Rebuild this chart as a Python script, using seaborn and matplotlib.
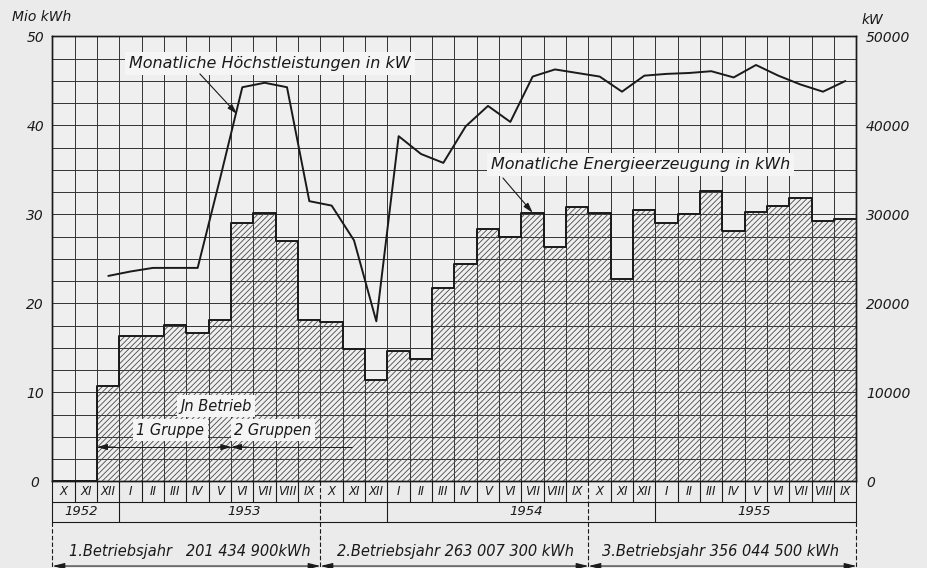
import numpy as np
import pandas as pd
import seaborn as sns
import matplotlib.pyplot as plt

# monthly data, Oct 1952 .. Sep 1955
months = ['X', 'XI', 'XII', 'I', 'II', 'III', 'IV', 'V', 'VI', 'VII', 'VIII', 'IX'] * 3
energy_mio_kwh = [0, 0, 10.7, 16.3, 16.4, 17.6, 16.7, 18.2, 29.1, 30.2, 27.0, 18.1,
                  17.9, 14.9, 11.4, 14.7, 13.8, 21.7, 24.4, 28.4, 27.5, 30.2, 26.3, 30.8,
                  30.2, 22.7, 30.5, 29.0, 30.0, 32.6, 28.1, 30.3, 30.9, 31.9, 29.3, 29.5]
# monthly peak load, starting Dec 1952
peak_kw = [23100, 23600, 24000, 24000, 24000, 34000, 44300, 44800, 44300, 31500,
           31000, 27100, 18000, 38800, 36800, 35800, 39900, 42200, 40400, 45500,
           46300, 45900, 45500, 43800, 45600, 45800, 45900, 46100, 45400, 46800,
           45600, 44600, 43800, 45000]
years = ['1952', '1953', '1954', '1955']
op_years = ['1.Betriebsjahr   201 434 900kWh',
            '2.Betriebsjahr 263 007 300 kWh',
            '3.Betriebsjahr 356 044 500 kWh']
left_ticks = [0, 10, 20, 30, 40, 50]
right_ticks = [0, 10000, 20000, 30000, 40000, 50000]

BG = '#ebebeb'
PLOT_BG = '#efefef'
BOX = '#f5f5f5'
INK = '#1a1a1a'

sns.set_theme(style='white')
plt.rcParams['font.family'] = ['DejaVu Sans']
plt.rcParams['font.style'] = 'italic'
plt.rcParams['hatch.linewidth'] = 0.6

df = pd.DataFrame({'i': np.arange(len(energy_mio_kwh)), 'month': months, 'energy': energy_mio_kwh})
dl = pd.DataFrame({'i': np.arange(2, 2 + len(peak_kw)), 'kw': peak_kw})

fig = plt.figure(figsize=(9.27, 5.68), dpi=100, facecolor=BG)
ax = fig.add_axes([0.05663, 0.15229, 0.8673, 0.78345])
ax.set_facecolor(PLOT_BG)

# hatched monthly energy bars
sns.barplot(data=df, x='i', y='energy', native_scale=True, width=1, fill=False,
            color='#4a4a4a', hatch='//////', linewidth=0, saturation=1, ax=ax)
# step outline of the bars
edges = np.arange(len(energy_mio_kwh) + 1) - 0.5
step_y = energy_mio_kwh + [energy_mio_kwh[-1]]
sns.lineplot(x=edges, y=step_y, drawstyle='steps-post', color=INK, lw=1.4, ax=ax)

ax.set_xlim(-0.5, 35.5)
ax.set_ylim(0, 50)
ax.set_xticks([])
ax.set_xticks(edges, minor=True)
ax.set_yticks(left_ticks)
ax.set_yticks(np.arange(0, 50.1, 2.5), minor=True)
ax.set_yticklabels([str(t) for t in left_ticks], ha='center', fontsize=10, color=INK)
ax.tick_params(axis='y', which='both', length=0, pad=12.5)
ax.tick_params(axis='x', which='both', length=0)
ax.grid(which='both', color='#333333', lw=0.7)
ax.set_xlabel('')
ax.set_ylabel('')
for s in ax.spines.values():
    s.set_color(INK)
    s.set_linewidth(1.0)

# peak load line on the kW axis
ax2 = ax.twinx()
sns.lineplot(data=dl, x='i', y='kw', color=INK, lw=1.4, ax=ax2)
ax2.set_ylim(0, 50000)
ax2.set_yticks(right_ticks)
ax2.set_yticklabels([str(t) for t in right_ticks], fontsize=10, color=INK)
ax2.tick_params(axis='y', length=0, pad=7)
ax2.set_xlabel('')
ax2.set_ylabel('')
ax2.grid(False)
for s in ax2.spines.values():
    s.set_color(INK)
    s.set_linewidth(1.0)

fig.text(12 / 927, 1 - 17 / 568, 'Mio kWh', fontsize=10, va='center', ha='left', color=INK)
fig.text(862 / 927, 1 - 20 / 568, 'kW', fontsize=10, va='center', ha='left', color=INK)

# labels with arrows
box = dict(boxstyle='square,pad=0.25', fc=BOX, ec='none')
ax.text(9.24, 47.0, 'Monatliche Höchstleistungen in kW', fontsize=11.5, ha='center',
        va='center', bbox=box, zorder=5, color=INK)
ax.annotate('', xy=(7.76, 41.3), xytext=(6.1, 45.8), zorder=5,
            arrowprops=dict(arrowstyle='-|>,head_length=0.5,head_width=0.15', lw=0.8,
                            color=INK, shrinkA=0, shrinkB=0))
ax.text(25.84, 35.6, 'Monatliche Energieerzeugung in kWh', fontsize=11.5, ha='center',
        va='center', bbox=box, zorder=5, color=INK)
ax.annotate('', xy=(21.0, 30.2), xytext=(19.67, 34.1), zorder=5,
            arrowprops=dict(arrowstyle='-|>,head_length=0.5,head_width=0.15', lw=0.8,
                            color=INK, shrinkA=0, shrinkB=0))

# "in Betrieb" marker
ax.text(6.82, 8.46, 'Jn Betrieb', fontsize=10.5, ha='center', va='center', bbox=box,
        zorder=5, color=INK)
ax.text(4.77, 5.77, '1 Gruppe', fontsize=10.5, ha='center', va='center', bbox=box,
        zorder=5, color=INK)
ax.text(9.37, 5.77, '2 Gruppen', fontsize=10.5, ha='center', va='center', bbox=box,
        zorder=5, color=INK)
ax.plot([1.5, 12.9], [3.87, 3.87], color=INK, lw=0.7, zorder=5)
small = dict(arrowstyle='-|>,head_length=0.5,head_width=0.15', lw=0.8, color=INK,
             shrinkA=0, shrinkB=0)
ax.annotate('', xy=(1.5, 3.87), xytext=(2.3, 3.87), arrowprops=small, zorder=5)
ax.annotate('', xy=(7.5, 3.87), xytext=(6.9, 3.87), arrowprops=small, zorder=5)
ax.annotate('', xy=(7.5, 3.87), xytext=(8.2, 3.87), arrowprops=small, zorder=5)

# table below the plot: months, years, operating years
r1, r2, r3 = -2.3, -4.55, -10.0
for i, m in enumerate(months):
    ax.text(i, r1 / 2, m, fontsize=8.5, ha='center', va='center', color=INK, clip_on=False)
for e in range(0, 37):
    dashed = e in (12, 24)
    ax.plot([e - 0.5, e - 0.5], [0, r1], color=INK, lw=0.8, ls=(0, (4, 2)) if dashed else '-',
            clip_on=False)
for e in (0, 3, 12, 15, 24, 27, 36):
    dashed = e in (12, 24)
    ax.plot([e - 0.5, e - 0.5], [r1, r2], color=INK, lw=0.8, ls=(0, (4, 2)) if dashed else '-',
            clip_on=False)
for e in (0, 12, 24, 36):
    ax.plot([e - 0.5, e - 0.5], [r2, r3], color=INK, lw=0.8, ls=(0, (4, 2)), clip_on=False)
for yy in (r1, r2):
    ax.plot([-0.5, 35.5], [yy, yy], color=INK, lw=0.8, clip_on=False)
for y_lab, xp in zip(years, [0.8, 8.1, 20.7, 30.9]):
    ax.text(xp, (r1 + r2) / 2, y_lab, fontsize=9.5, ha='center', va='center', color=INK,
            clip_on=False)
for k, lab in enumerate(op_years):
    ax.text([5.66, 17.56, 29.4][k], -7.9, lab, fontsize=10.5, ha='center', va='center',
            color=INK, clip_on=False)
    ax.annotate('', xy=(k * 12 - 0.5, -9.5), xytext=(k * 12 + 11.5, -9.5),
                annotation_clip=False,
                arrowprops=dict(arrowstyle='<|-|>,head_length=0.6,head_width=0.15', lw=0.8,
                                color=INK, shrinkA=0, shrinkB=0))

fig.savefig('out.png', dpi=100, facecolor=BG)
